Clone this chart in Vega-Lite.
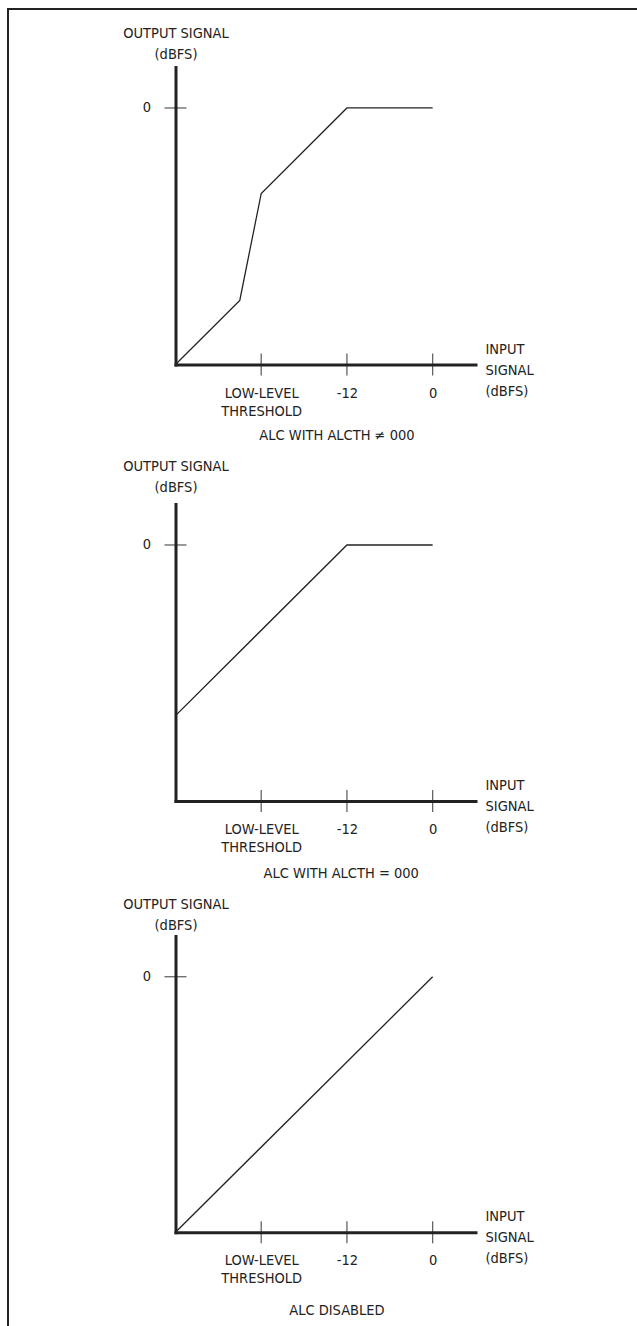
{
  "$schema": "https://vega.github.io/schema/vega-lite/v6.json",
  "width": 640,
  "height": 1330,
  "autosize": "none",
  "padding": {"left": 8, "top": 9, "right": 0, "bottom": 0},
  "config": {
    "font": "DejaVu Sans Condensed, DejaVu Sans, sans-serif",
    "view": {"stroke": "#222", "strokeWidth": 2},
    "text": {"fontSize": 14.5, "color": "#222"},
    "axis": {
      "domainColor": "#222", "domainWidth": 3, "domainCap": "square",
      "grid": false, "ticks": false, "tickSize": 0,
      "labelFontSize": 14.5, "labelColor": "#222", "labelFlush": false, "labelOverlap": false, "labelBound": false,
      "titleFontSize": 14.5, "titleFontWeight": "normal", "titleColor": "#222", "titleAngle": 0
    }
  },
  "datasets": {
    "curves": [
      {"panel": 1, "input": -36, "output": -36},
      {"panel": 1, "input": -27, "output": -27},
      {"panel": 1, "input": -24, "output": -12},
      {"panel": 1, "input": -12, "output": 0},
      {"panel": 1, "input": 0, "output": 0},
      {"panel": 2, "input": -36, "output": -24},
      {"panel": 2, "input": -12, "output": 0},
      {"panel": 2, "input": 0, "output": 0},
      {"panel": 3, "input": -36, "output": -36},
      {"panel": 3, "input": 0, "output": 0}
    ],
    "xticks": [{"value": -24}, {"value": -12}, {"value": 0}],
    "yticks": [{"value": 0}],
    "captions": [
      {"panel": 1, "caption": "ALC WITH ALCTH ≠ 000"},
      {"panel": 2, "caption": "ALC WITH ALCTH = 000"},
      {"panel": 3, "caption": "ALC DISABLED"}
    ]
  },
  "layer": [
    {
      "layer": [
        {
          "data": {"name": "curves"},
          "transform": [{"filter": "datum.panel == 1"}],
          "mark": {"type": "line", "color": "#222", "strokeWidth": 1.3},
          "encoding": {
            "x": {"field": "input", "type": "quantitative",
              "scale": {"domain": [-36, 6], "range": [167.5, 467.5], "nice": false, "zero": false},
              "axis": {"orient": "bottom", "offset": -974.5, "values": [-24, -12, 0],
                "labelExpr": "datum.value == -24 ? ['LOW-LEVEL', 'THRESHOLD'] : datum.value == -12 ? '-12' : '0'",
                "labelPadding": 32.5, "labelBaseline": "alphabetic", "labelLineHeight": 18,
                "title": ["INPUT", "SIGNAL", "(dBFS)"], "titleAlign": "left", "titleBaseline": "alphabetic",
                "titleX": 477, "titleY": -11.5, "titleLineHeight": 21}},
            "y": {"field": "output", "type": "quantitative",
              "scale": {"domain": [-36, 5.75], "range": [355.5, 58], "nice": false, "zero": false},
              "axis": {"orient": "left", "offset": -167.5, "values": [0], "labelExpr": "'0'",
                "labelPadding": 25, "labelBaseline": "middle",
                "title": ["OUTPUT SIGNAL", "(dBFS)"], "titleAlign": "center", "titleBaseline": "alphabetic",
                "titleX": 0, "titleY": 28, "titleLineHeight": 21.5}}
          }
        },
        {
          "data": {"name": "xticks"},
          "mark": {"type": "tick", "orient": "vertical", "size": 22, "thickness": 1.3, "color": "#222"},
          "encoding": {"x": {"field": "value", "type": "quantitative"}, "y": {"datum": -36, "type": "quantitative"}}
        },
        {
          "data": {"name": "yticks"},
          "mark": {"type": "tick", "orient": "horizontal", "size": 22, "thickness": 1.3, "color": "#222"},
          "encoding": {"x": {"datum": -36, "type": "quantitative"}, "y": {"field": "value", "type": "quantitative"}}
        },
        {
          "data": {"name": "captions"},
          "transform": [{"filter": "datum.panel == 1"}],
          "mark": {"type": "text", "align": "center", "baseline": "alphabetic", "dy": 75.5},
          "encoding": {"x": {"datum": -13.4, "type": "quantitative"}, "y": {"datum": -36, "type": "quantitative"}, "text": {"field": "caption"}}
        }
      ]
    },
    {
      "layer": [
        {
          "data": {"name": "curves"},
          "transform": [{"filter": "datum.panel == 2"}],
          "mark": {"type": "line", "color": "#222", "strokeWidth": 1.3},
          "encoding": {
            "x": {"field": "input", "type": "quantitative",
              "scale": {"domain": [-36, 6], "range": [167.5, 467.5], "nice": false, "zero": false},
              "axis": {"orient": "bottom", "offset": -538, "values": [-24, -12, 0],
                "labelExpr": "datum.value == -24 ? ['LOW-LEVEL', 'THRESHOLD'] : datum.value == -12 ? '-12' : '0'",
                "labelPadding": 32.5, "labelBaseline": "alphabetic", "labelLineHeight": 18,
                "title": ["INPUT", "SIGNAL", "(dBFS)"], "titleAlign": "left", "titleBaseline": "alphabetic",
                "titleX": 477, "titleY": -12, "titleLineHeight": 21}},
            "y": {"field": "output", "type": "quantitative",
              "scale": {"domain": [-36, 5.75], "range": [792, 495.1], "nice": false, "zero": false},
              "axis": {"orient": "left", "offset": -167.5, "values": [0], "labelExpr": "'0'",
                "labelPadding": 25, "labelBaseline": "middle",
                "title": ["OUTPUT SIGNAL", "(dBFS)"], "titleAlign": "center", "titleBaseline": "alphabetic",
                "titleX": 0, "titleY": 461, "titleLineHeight": 21.5}}
          }
        },
        {
          "data": {"name": "xticks"},
          "mark": {"type": "tick", "orient": "vertical", "size": 22, "thickness": 1.3, "color": "#222"},
          "encoding": {"x": {"field": "value", "type": "quantitative"}, "y": {"datum": -36, "type": "quantitative"}}
        },
        {
          "data": {"name": "yticks"},
          "mark": {"type": "tick", "orient": "horizontal", "size": 22, "thickness": 1.3, "color": "#222"},
          "encoding": {"x": {"datum": -36, "type": "quantitative"}, "y": {"field": "value", "type": "quantitative"}}
        },
        {
          "data": {"name": "captions"},
          "transform": [{"filter": "datum.panel == 2"}],
          "mark": {"type": "text", "align": "center", "baseline": "alphabetic", "dy": 77},
          "encoding": {"x": {"datum": -12.8, "type": "quantitative"}, "y": {"datum": -36, "type": "quantitative"}, "text": {"field": "caption"}}
        }
      ]
    },
    {
      "layer": [
        {
          "data": {"name": "curves"},
          "transform": [{"filter": "datum.panel == 3"}],
          "mark": {"type": "line", "color": "#222", "strokeWidth": 1.3},
          "encoding": {
            "x": {"field": "input", "type": "quantitative",
              "scale": {"domain": [-36, 6], "range": [167.5, 467.5], "nice": false, "zero": false},
              "axis": {"orient": "bottom", "offset": -106.7, "values": [-24, -12, 0],
                "labelExpr": "datum.value == -24 ? ['LOW-LEVEL', 'THRESHOLD'] : datum.value == -12 ? '-12' : '0'",
                "labelPadding": 32.5, "labelBaseline": "alphabetic", "labelLineHeight": 18,
                "title": ["INPUT", "SIGNAL", "(dBFS)"], "titleAlign": "left", "titleBaseline": "alphabetic",
                "titleX": 477, "titleY": -12, "titleLineHeight": 21}},
            "y": {"field": "output", "type": "quantitative",
              "scale": {"domain": [-36, 5.75], "range": [1223.3, 926.9], "nice": false, "zero": false},
              "axis": {"orient": "left", "offset": -167.5, "values": [0], "labelExpr": "'0'",
                "labelPadding": 25, "labelBaseline": "middle",
                "title": ["OUTPUT SIGNAL", "(dBFS)"], "titleAlign": "center", "titleBaseline": "alphabetic",
                "titleX": 0, "titleY": 899, "titleLineHeight": 21.5}}
          }
        },
        {
          "data": {"name": "xticks"},
          "mark": {"type": "tick", "orient": "vertical", "size": 22, "thickness": 1.3, "color": "#222"},
          "encoding": {"x": {"field": "value", "type": "quantitative"}, "y": {"datum": -36, "type": "quantitative"}}
        },
        {
          "data": {"name": "yticks"},
          "mark": {"type": "tick", "orient": "horizontal", "size": 22, "thickness": 1.3, "color": "#222"},
          "encoding": {"x": {"datum": -36, "type": "quantitative"}, "y": {"field": "value", "type": "quantitative"}}
        },
        {
          "data": {"name": "captions"},
          "transform": [{"filter": "datum.panel == 3"}],
          "mark": {"type": "text", "align": "center", "baseline": "alphabetic", "dy": 83},
          "encoding": {"x": {"datum": -13.4, "type": "quantitative"}, "y": {"datum": -36, "type": "quantitative"}, "text": {"field": "caption"}}
        }
      ]
    }
  ],
  "resolve": {
    "scale": {"x": "independent", "y": "independent"},
    "axis": {"x": "independent", "y": "independent"}
  }
}
